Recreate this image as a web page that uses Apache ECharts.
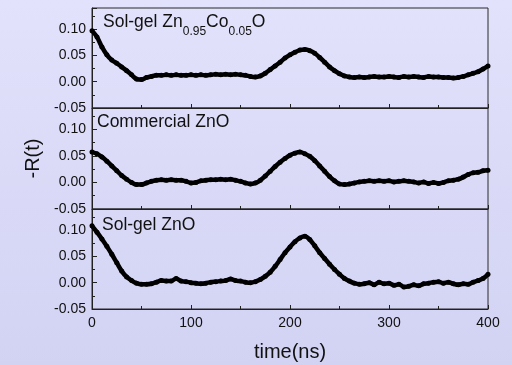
<!DOCTYPE html>
<html>
<head>
<meta charset="utf-8">
<script src="https://cdn.jsdelivr.net/npm/echarts@6/dist/echarts.min.js"></script>
<style>
html,body{margin:0;padding:0;}
body{background:linear-gradient(to bottom,#e2e2fc 0%,#d2d2f3 100%);}
#c{width:512px;height:365px;}
</style>
</head>
<body>
<div id="c"></div>
<script>
// time axis (ns), step 5
var times = [];
for (var i = 0; i <= 80; i++) times.push(i * 5);

var xTicks = [0, 100, 200, 300, 400];
var yTicks = [-0.05, 0.00, 0.05, 0.10];

var panelLabels = ['{a|Sol-gel Zn}{s|0.95}{a|Co}{s|0.05}{a|O}', '{a|Commercial ZnO}', '{a|Sol-gel ZnO}'];

var solgelZnCo = [
0.097,0.085,0.066,0.051,0.041,0.035,0.028,0.021,0.013,0.005,
0.004,0.008,0.010,0.012,0.012,0.013,0.012,0.013,0.012,0.012,
0.013,0.012,0.013,0.012,0.013,0.014,0.013,0.014,0.013,0.014,
0.013,0.012,0.010,0.009,0.011,0.016,0.023,0.030,0.037,0.045,
0.051,0.056,0.060,0.061,0.059,0.054,0.046,0.037,0.028,0.021,
0.015,0.011,0.009,0.008,0.009,0.008,0.009,0.010,0.009,0.009,
0.010,0.009,0.008,0.010,0.009,0.010,0.009,0.008,0.010,0.009,
0.009,0.008,0.008,0.007,0.008,0.010,0.013,0.016,0.019,0.024,
0.030];

var commercialZnO = [
0.057,0.054,0.048,0.040,0.031,0.022,0.013,0.006,0.000,-0.004,
-0.004,-0.001,0.002,0.004,0.005,0.004,0.005,0.004,0.004,0.002,
-0.001,0.000,0.003,0.004,0.005,0.005,0.006,0.005,0.006,0.004,
0.002,-0.001,-0.003,-0.001,0.004,0.012,0.021,0.030,0.038,0.045,
0.051,0.055,0.057,0.054,0.049,0.041,0.031,0.021,0.011,0.003,
-0.003,-0.004,-0.003,-0.001,0.001,0.002,0.003,0.002,0.003,0.002,
0.003,0.001,0.002,0.003,0.002,0.001,-0.001,0.001,-0.002,0.000,
-0.002,0.000,0.003,0.004,0.006,0.010,0.015,0.018,0.019,0.022,
0.023];

var solgelZnO = [
0.108,0.096,0.083,0.069,0.054,0.038,0.022,0.011,0.004,-0.001,
-0.003,-0.003,-0.002,0.001,0.004,0.003,0.003,0.008,0.003,0.002,
0.000,-0.001,-0.002,-0.001,0.001,0.002,0.003,0.004,0.007,0.004,
0.003,0.001,0.000,0.002,0.006,0.012,0.020,0.031,0.044,0.057,
0.068,0.078,0.085,0.088,0.082,0.070,0.057,0.046,0.035,0.025,
0.016,0.008,0.003,-0.001,-0.003,-0.002,0.000,-0.004,0.001,-0.002,
-0.001,-0.005,-0.003,-0.008,-0.007,-0.004,-0.006,-0.002,-0.001,0.001,
0.002,-0.001,0.001,-0.002,-0.004,-0.002,-0.003,0.001,0.004,0.008,
0.016];

var seriesData = [solgelZnCo, commercialZnO, solgelZnO];

var FONT = 'Arial, "Liberation Sans", sans-serif';
var grids = [
  {left: 92, right: 24, top: 8, height: 100},
  {left: 92, right: 24, top: 108, height: 101},
  {left: 92, right: 24, top: 209, height: 100}
];

var option = {
  backgroundColor: 'transparent',
  animation: false,
  grid: grids.map(function (g) {
    return Object.assign({show: true, borderColor: '#2a2a2a', borderWidth: 1, backgroundColor: 'transparent'}, g);
  }),
  title: panelLabels.map(function (t, i) {
    var pos = [{left: 103, top: 13}, {left: 97, top: 113}, {left: 102, top: 216}][i];
    return {
      text: t, left: pos.left, top: pos.top, padding: 0,
      textStyle: {
        fontWeight: 'normal', fontFamily: FONT, fontSize: 17, color: '#111',
        rich: {
          a: {fontFamily: FONT, fontWeight: 'normal', fontSize: 17.5, color: '#111', lineHeight: 18, verticalAlign: 'top'},
          s: {fontFamily: FONT, fontWeight: 'normal', fontSize: 12, color: '#111', lineHeight: 12, verticalAlign: 'top', padding: [13, 0, 0, 0]}
        }
      }
    };
  }),
  xAxis: [0, 1, 2].map(function (i) {
    return {
      type: 'value', gridIndex: i, min: xTicks[0], max: xTicks[xTicks.length - 1], interval: xTicks[1] - xTicks[0],
      axisLine: {show: true, onZero: false, lineStyle: {color: '#222', width: 1}},
      axisTick: {show: true, inside: true, length: 4, lineStyle: {color: '#222'}},
      minorTick: {show: true, splitNumber: 2, length: 3, lineStyle: {color: '#222'}},
      splitLine: {show: false},
      axisLabel: {show: i === 2, fontFamily: FONT, fontSize: 14, color: '#111', margin: 7},
      name: i === 2 ? 'time(ns)' : '',
      nameLocation: 'middle', nameGap: 33,
      nameTextStyle: {fontFamily: FONT, fontSize: 20, color: '#111'}
    };
  }),
  yAxis: [0, 1, 2].map(function (i) {
    return {
      type: 'value', gridIndex: i, min: yTicks[0], max: 0.14, interval: 0.05,
      axisLine: {show: true, onZero: false, lineStyle: {color: '#222', width: 1}},
      axisTick: {show: true, inside: true, length: 5, lineStyle: {color: '#222'}},
      minorTick: {show: true, splitNumber: 2, length: 3, lineStyle: {color: '#222'}},
      splitLine: {show: false},
      axisLabel: {
        fontFamily: FONT, fontSize: 14, color: '#111', margin: 6, showMaxLabel: false,
        formatter: function (v) { return v.toFixed(2); }
      },
      name: i === 1 ? '-R(t)' : '',
      nameLocation: 'middle', nameGap: 43, nameRotate: 90,
      nameTextStyle: {fontFamily: FONT, fontSize: 20, color: '#111'}
    };
  }),
  series: seriesData.map(function (d, i) {
    return {
      type: 'line', xAxisIndex: i, yAxisIndex: i,
      data: times.map(function (t, k) { return [t, d[k]]; }),
      lineStyle: {color: '#000', width: 4.5},
      itemStyle: {color: '#000'},
      symbol: 'circle', symbolSize: 5, showSymbol: true,
      smooth: 0.3
    };
  })
};

var chart = echarts.init(document.getElementById('c'), null, {renderer: 'canvas'});
chart.setOption(option);
</script>
</body>
</html>
